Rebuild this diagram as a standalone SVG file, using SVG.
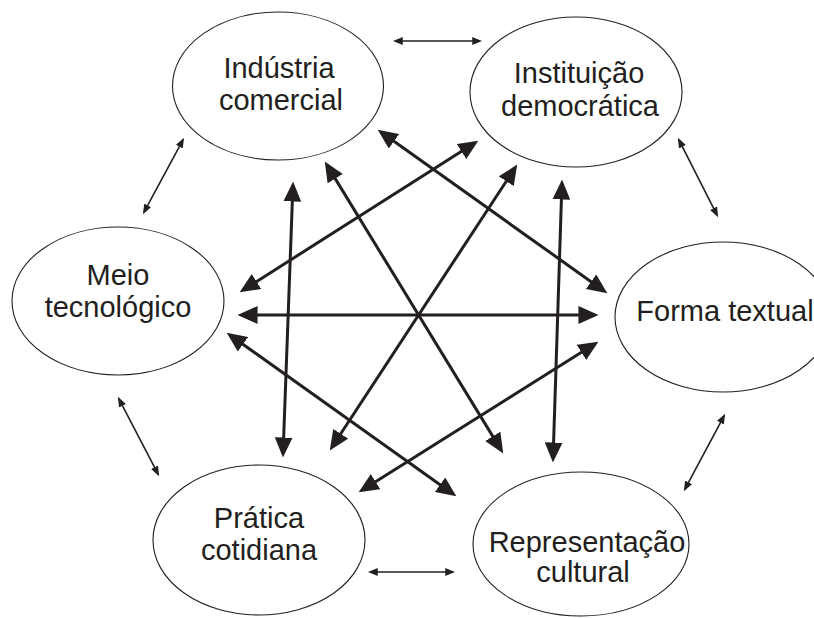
<svg xmlns="http://www.w3.org/2000/svg" width="814" height="618" viewBox="0 0 814 618">
<style>
.n ellipse{fill:#fff;stroke:#231f20;stroke-width:1.1}
.n text{font-family:"Liberation Sans",Arial,sans-serif;font-size:29px;fill:#231f20;text-anchor:middle}
.thick{stroke:#231f20;stroke-width:3;fill:none;marker-start:url(#hb);marker-end:url(#hb)}
.thin{stroke:#231f20;stroke-width:1.6;fill:none;marker-start:url(#hs);marker-end:url(#hs)}
</style>
<defs>
<marker id="hb" markerUnits="userSpaceOnUse" markerWidth="20" markerHeight="18" refX="14" refY="8" orient="auto-start-reverse" viewBox="0 0 18 16"><path d="M0,0 L18,8 L0,16 z" fill="#231f20"/></marker>
<marker id="hs" markerUnits="userSpaceOnUse" markerWidth="10" markerHeight="8" refX="7" refY="3.5" orient="auto-start-reverse" viewBox="0 0 9 7"><path d="M0,0 L9,3.5 L0,7 z" fill="#231f20"/></marker>
</defs>
<rect width="814" height="618" fill="#fff"/>
<g id="n-industria" class="n"><ellipse cx="278" cy="86" rx="105.5" ry="74"/><text x="279" y="78">Indústria</text><text x="281" y="110">comercial</text></g>
<g id="n-instituicao" class="n"><ellipse cx="576" cy="92" rx="106" ry="75"/><text x="579" y="83">Instituição</text><text x="580" y="116">democrática</text></g>
<g id="n-meio" class="n"><ellipse cx="118" cy="301" rx="106" ry="74"/><text x="118" y="285">Meio</text><text x="118" y="317">tecnológico</text></g>
<g id="n-forma" class="n"><ellipse cx="723" cy="317" rx="108" ry="75"/><text x="725" y="321">Forma textual</text></g>
<g id="n-pratica" class="n"><ellipse cx="259" cy="540" rx="106" ry="75"/><text x="259" y="528">Prática</text><text x="259" y="560">cotidiana</text></g>
<g id="n-representacao" class="n"><ellipse cx="581" cy="544" rx="108" ry="72"/><text x="587" y="552">Representação</text><text x="583" y="582">cultural</text></g>
<g id="connectors">
<line class="thick" x1="242" y1="315" x2="594" y2="315"/>
<line class="thick" x1="292.9" y1="186" x2="283.1" y2="453"/>
<line class="thick" x1="561.9" y1="184" x2="553.1" y2="458"/>
<line class="thick" x1="327.1" y1="165.4" x2="500.9" y2="449.6"/>
<line class="thick" x1="514.8" y1="168.3" x2="332.2" y2="446.7"/>
<line class="thick" x1="381.3" y1="132.3" x2="603.7" y2="290.7"/>
<line class="thick" x1="474.6" y1="143.1" x2="243.4" y2="289.9"/>
<line class="thick" x1="230.3" y1="335.3" x2="452.7" y2="493.7"/>
<line class="thick" x1="594.6" y1="344.1" x2="362.4" y2="489.9"/>
<line class="thin" x1="395" y1="41" x2="480" y2="41"/>
<line class="thin" x1="183" y1="139.8" x2="144" y2="212.2"/>
<line class="thin" x1="678.9" y1="139.8" x2="717.1" y2="215.2"/>
<line class="thin" x1="118.9" y1="398.8" x2="158.1" y2="474.2"/>
<line class="thin" x1="724.1" y1="415.8" x2="684.9" y2="489.2"/>
<line class="thin" x1="370" y1="572" x2="453" y2="572"/>
</g>
</svg>
